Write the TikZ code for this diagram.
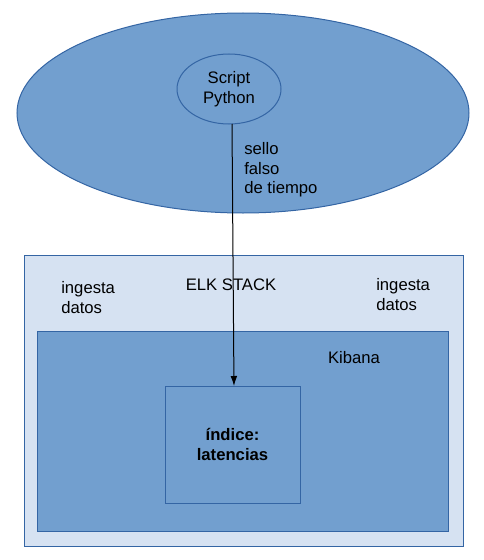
\documentclass[tikz,border=0pt]{standalone}
\usepackage{fontspec}
\setmainfont{Liberation Sans}
\usetikzlibrary{shapes.geometric,arrows.meta}

\definecolor{azulmedio}{RGB}{114,159,207}
\definecolor{azulclaro}{RGB}{214,226,242}
\definecolor{azulborde}{RGB}{52,101,164}

\tikzset{
	caja/.style={draw=azulborde, line width=0.75pt, inner sep=0pt, outer sep=0pt},
	texto/.style={font=\fontsize{12.5}{14.6}\selectfont, align=left, inner sep=0pt}
}

\begin{document}
\begin{tikzpicture}[x=0.75pt,y=-0.75pt]
		\useasboundingbox (0,0) rectangle (483,560);

		% parte superior
		\node[caja, ellipse, fill=azulmedio, minimum width=339pt, minimum height=150pt] (nube) at (243,113) {};
		\node[caja, ellipse, fill=azulmedio, minimum width=78pt, minimum height=52.5pt] (script) at (229,89) {};
		\node[texto, align=center] (scripttxt) at (229,89) {Script\\Python};
		\node[texto, anchor=west] (sello) at (244,170) {sello\\falso\\de tiempo};

		% ELK
		\node[caja, fill=azulclaro, minimum width=329.25pt, minimum height=218.25pt] (elk) at (243.5,400.5) {};
		\node[texto] (elktxt) at (231,285) {ELK STACK};
		\node[texto, anchor=west] (ingestaA) at (61,297.5) {ingesta\\datos};
		\node[texto, anchor=west] (ingestaB) at (376,294.5) {ingesta\\datos};

		\node[caja, fill=azulmedio, minimum width=308.25pt, minimum height=150pt] (kibana) at (242.5,431) {};
		\node[texto] (kibanatxt) at (354,358) {Kibana};

		\node[caja, fill=azulmedio, minimum width=101.25pt, minimum height=87.75pt] (indice) at (232.5,444.5) {};
		\node[texto, align=center, font=\fontsize{12.5}{14.6}\selectfont\bfseries] (indicetxt) at (232.5,444.5) {índice:\\latencias};

		\draw[line width=0.75pt, -{Latex[length=7.5pt,width=5pt]}] ([xshift=2.25pt]script.south) -- ([xshift=1.1pt]indice.north);
	\end{tikzpicture}
\end{document}
